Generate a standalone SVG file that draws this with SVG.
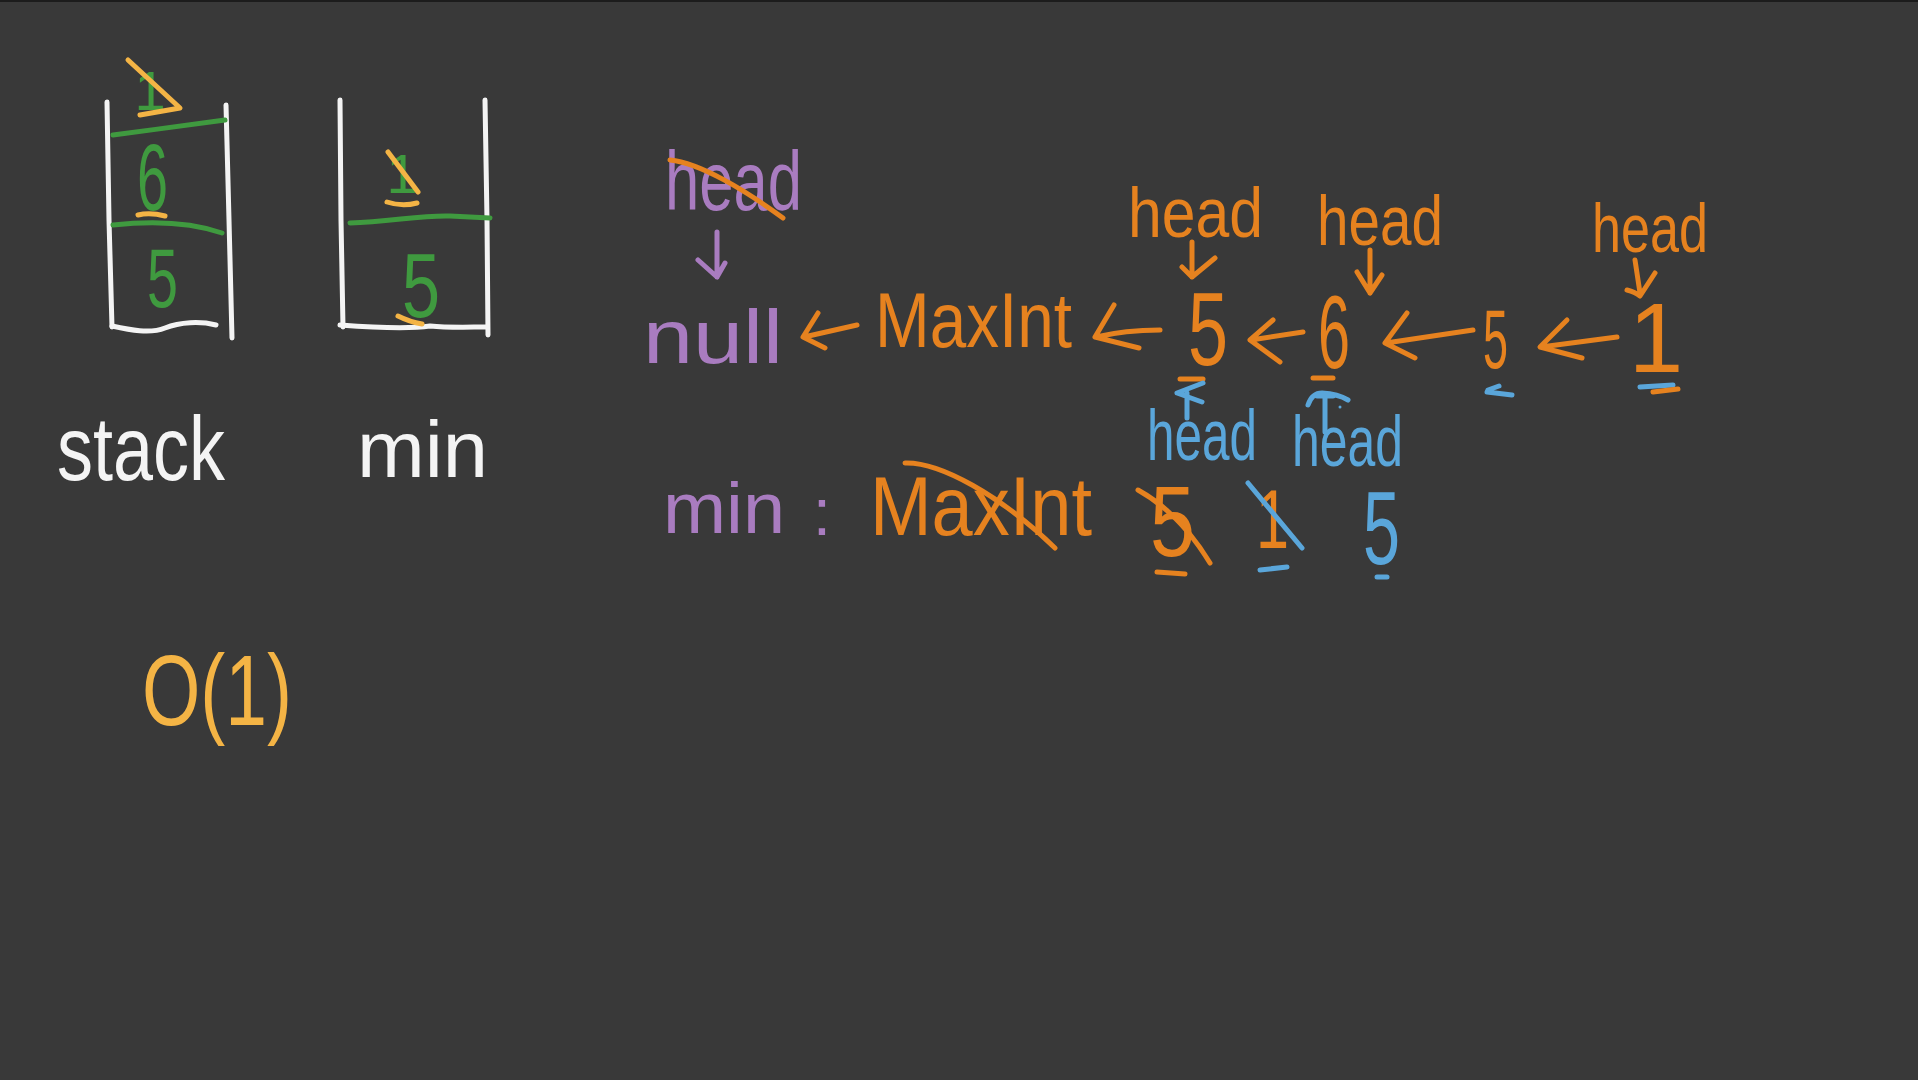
<svg xmlns="http://www.w3.org/2000/svg" width="1918" height="1080" viewBox="0 0 1918 1080">
<style>
.hw{font-family:"Liberation Sans",Arial,sans-serif;font-weight:normal}
.w{fill:#f4f4f4}.g{fill:#3f9a3f}.y{fill:#f4b445}.o{fill:#e6821f}.p{fill:#a97cc0}.b{fill:#5aa6da}
.s{fill:none;stroke-width:5;stroke-linecap:round;stroke-linejoin:round}
.sw{stroke:#f4f4f4}.sg{stroke:#3f9a3f}.sy{stroke:#f4b445}.so{stroke:#e6821f}.sp{stroke:#a97cc0}.sb{stroke:#5aa6da}
</style>
<rect width="1918" height="1080" fill="#393939"/>
<rect width="1918" height="2" fill="#1c1c1c"/>

<g id="stack-container">
  <path class="s sw" d="M107,102 L109,220 L112,327"/>
  <path class="s sw" d="M226,105 L229,220 L232,338"/>
  <path class="s sw" d="M112,326 C130,330 150,334 165,328 C180,322 200,321 216,325"/>
  <path class="s sg" d="M113,135 C150,130 190,125 225,120"/>
  <path class="s sg" d="M113,225 C150,221 190,222 222,233"/>
  <text class="hw g" x="150" y="110" font-size="56" text-anchor="middle">1</text>
  <path class="s sy" d="M128,60 L180,108 L140,115"/>
  <text class="hw g" x="137" y="210" font-size="95" textLength="31" lengthAdjust="spacingAndGlyphs">6</text>
  <path class="s sy" d="M138,215 Q150,212 165,216"/>
  <text class="hw g" x="147" y="307" font-size="84" textLength="31" lengthAdjust="spacingAndGlyphs">5</text>
</g>
<g id="min-container">
  <path class="s sw" d="M340,100 L341,220 L343,327"/>
  <path class="s sw" d="M485,100 L487,220 L488,335"/>
  <path class="s sw" d="M340,325 C380,328 410,329 430,326 C450,328 470,327 487,327"/>
  <path class="s sg" d="M350,223 C390,222 420,215 450,216 L490,218"/>
  <text class="hw g" x="402" y="193" font-size="56" text-anchor="middle">1</text>
  <path class="s sy" d="M388,152 L418,192"/>
  <path class="s sy" d="M387,202 Q402,207 417,203"/>
  <text class="hw g" x="402" y="317" font-size="90" textLength="38" lengthAdjust="spacingAndGlyphs">5</text>
  <path class="s sy" d="M398,316 Q410,322 422,324"/>
</g>
<g id="label-stack"><text class="hw w" x="57" y="480" font-size="90" textLength="168" lengthAdjust="spacingAndGlyphs">stack</text></g>
<g id="label-min"><text class="hw w" x="357" y="477" font-size="80" textLength="131" lengthAdjust="spacingAndGlyphs">min</text></g>
<g id="complexity"><text class="hw y" x="142" y="725" font-size="100" textLength="150" lengthAdjust="spacingAndGlyphs">O(1)</text></g>

<g id="head-purple">
  <text class="hw p" x="665" y="210" font-size="84" textLength="137" lengthAdjust="spacingAndGlyphs">head</text>
  <path class="s so" d="M670,160 C700,163 745,190 783,218"/>
</g>
<g id="node-null"><text class="hw p" x="643" y="363" font-size="76" textLength="140" lengthAdjust="spacingAndGlyphs">null</text></g>
<g id="node-maxint"><text class="hw o" x="875" y="347" font-size="77" textLength="197" lengthAdjust="spacingAndGlyphs">MaxInt</text></g>
<g id="node-5a"><text class="hw o" x="1188" y="365" font-size="104" textLength="40" lengthAdjust="spacingAndGlyphs">5</text>
  <path class="s so" d="M1180,379 L1203,379"/></g>
<g id="node-6"><text class="hw o" x="1318" y="368" font-size="104" textLength="32" lengthAdjust="spacingAndGlyphs">6</text>
  <path class="s so" d="M1313,378 L1333,378"/></g>
<g id="node-5b"><text class="hw o" x="1483" y="368" font-size="84" textLength="25" lengthAdjust="spacingAndGlyphs">5</text>
  <path class="s sb" d="M1487,392 L1512,395 M1488,390 L1499,386"/></g>
<g id="node-1"><text class="hw o" x="1656" y="372" font-size="98" text-anchor="middle">1</text>
  <path class="s sb" d="M1640,387 L1673,385"/><path class="s so" d="M1653,392 L1678,389"/></g>
<g id="head-1"><text class="hw o" x="1128" y="237" font-size="70" textLength="135" lengthAdjust="spacingAndGlyphs">head</text></g>
<g id="head-2"><text class="hw o" x="1317" y="245" font-size="70" textLength="126" lengthAdjust="spacingAndGlyphs">head</text></g>
<g id="head-3"><text class="hw o" x="1592" y="252" font-size="68" textLength="116" lengthAdjust="spacingAndGlyphs">head</text></g>
<g id="head-blue-1"><text class="hw b" x="1147" y="460" font-size="72" textLength="110" lengthAdjust="spacingAndGlyphs">head</text></g>
<g id="head-blue-2"><text class="hw b" x="1292" y="466" font-size="72" textLength="111" lengthAdjust="spacingAndGlyphs">head</text>
  <circle cx="1340" cy="407" r="1.5" fill="#5aa6da"/></g>

<g id="min-row">
  <text class="hw p" x="663" y="533" font-size="72" textLength="122" lengthAdjust="spacingAndGlyphs">min</text>
  <text class="hw p" x="822" y="535" font-size="66" text-anchor="middle">:</text>
  <text class="hw o" x="870" y="535" font-size="84" textLength="222" lengthAdjust="spacingAndGlyphs">MaxInt</text>
  <path class="s so" d="M905,463 C940,462 1000,495 1055,548"/>
  <text class="hw o" x="1150" y="556" font-size="100" textLength="45" lengthAdjust="spacingAndGlyphs">5</text>
  <path class="s so" d="M1138,490 C1165,505 1190,530 1210,563"/>
  <path class="s so" d="M1157,572 L1185,574"/>
  <text class="hw o" x="1256" y="548" font-size="84" textLength="33" lengthAdjust="spacingAndGlyphs">1</text>
  <path class="s sb" d="M1248,483 L1302,548"/>
  <path class="s sb" d="M1260,570 L1287,567"/>
  <text class="hw b" x="1363" y="564" font-size="104" textLength="37" lengthAdjust="spacingAndGlyphs">5</text>
  <path class="s sb" d="M1377,577 L1387,577"/>
</g>

<g id="connectors">
  <path class="s sp" d="M717,232 L717,277 M698,260 L717,277 L725,263"/>
  <path class="s so" d="M857,325 L804,337 M818,313 L803,337 L825,348"/>
  <path class="s so" d="M1160,330 Q1125,330 1096,337 M1114,305 L1095,337 L1139,348"/>
  <path class="s so" d="M1303,332 L1251,340 M1273,320 L1250,340 L1280,362"/>
  <path class="s so" d="M1473,330 L1386,343 M1407,313 L1385,343 L1415,358"/>
  <path class="s so" d="M1617,337 L1541,347 M1567,320 L1540,347 L1582,358"/>
  <path class="s so" d="M1192,242 L1192,277 M1182,267 L1192,277 L1215,258"/>
  <path class="s so" d="M1370,250 L1370,293 M1357,272 L1370,293 L1382,275"/>
  <path class="s so" d="M1635,260 L1640,293 M1627,290 Q1635,292 1640,296 L1655,273"/>
  <path class="s sb" d="M1203,383 L1177,393 L1202,402 M1187,393 L1187,418"/>
  <path class="s sb" d="M1308,405 Q1312,393 1322,393 Q1338,394 1348,400 M1317,396 L1333,396 M1325,396 L1325,432"/>
</g>
</svg>
